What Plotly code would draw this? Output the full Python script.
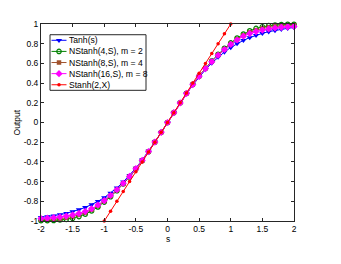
import plotly.graph_objects as go

s_vals = [-2.0, -1.9, -1.8, -1.7, -1.6, -1.5, -1.4, -1.3, -1.2, -1.1, -1.0, -0.9, -0.8, -0.7, -0.6, -0.5, -0.4, -0.3, -0.2, -0.1,
          0.0, 0.1, 0.2, 0.3, 0.4, 0.5, 0.6, 0.7, 0.8, 0.9, 1.0, 1.1, 1.2, 1.3, 1.4, 1.5, 1.6, 1.7, 1.8, 1.9, 2.0]

tanh_vals = [-0.964, -0.956, -0.947, -0.935, -0.922, -0.905, -0.885, -0.862, -0.834, -0.801, -0.762, -0.716, -0.664, -0.604,
             -0.537, -0.462, -0.380, -0.291, -0.197, -0.100, 0.0, 0.100, 0.197, 0.291, 0.380, 0.462, 0.537, 0.604, 0.664,
             0.716, 0.762, 0.801, 0.834, 0.862, 0.885, 0.905, 0.922, 0.935, 0.947, 0.956, 0.964]

nstanh4_vals = [-0.997, -0.996, -0.994, -0.990, -0.983, -0.972, -0.955, -0.930, -0.898, -0.857, -0.808, -0.753, -0.692, -0.625,
                -0.552, -0.473, -0.388, -0.297, -0.200, -0.100, 0.0, 0.100, 0.200, 0.297, 0.388, 0.473, 0.552, 0.625, 0.692,
                0.753, 0.808, 0.857, 0.898, 0.930, 0.955, 0.972, 0.983, 0.990, 0.994, 0.996, 0.997]

nstanh8_vals = [-0.988, -0.985, -0.981, -0.975, -0.967, -0.955, -0.938, -0.915, -0.885, -0.845, -0.798, -0.745, -0.686, -0.620,
                -0.549, -0.470, -0.386, -0.295, -0.199, -0.100, 0.0, 0.100, 0.199, 0.295, 0.386, 0.470, 0.549, 0.620, 0.686,
                0.745, 0.798, 0.845, 0.885, 0.915, 0.938, 0.955, 0.967, 0.975, 0.981, 0.985, 0.988]

nstanh16_vals = [-0.975, -0.971, -0.966, -0.959, -0.950, -0.938, -0.923, -0.903, -0.876, -0.838, -0.793, -0.741, -0.683, -0.618,
                 -0.547, -0.469, -0.385, -0.295, -0.199, -0.100, 0.0, 0.100, 0.199, 0.295, 0.385, 0.469, 0.547, 0.618, 0.683,
                 0.741, 0.793, 0.838, 0.876, 0.903, 0.923, 0.938, 0.950, 0.959, 0.966, 0.971, 0.975]

stanh_x = [-1.0, -0.9, -0.8, -0.7, -0.6, -0.5, -0.4, -0.3, -0.2, -0.1, 0.0, 0.1, 0.2, 0.3, 0.4, 0.5, 0.6, 0.7, 0.8, 0.9, 1.0]
stanh_y = [-1.0, -0.9, -0.8, -0.7, -0.6, -0.5, -0.4, -0.3, -0.2, -0.1, 0.0, 0.1, 0.2, 0.3, 0.4, 0.5, 0.6, 0.7, 0.8, 0.9, 1.0]

series_names = ["Tanh(s)", "NStanh(4,S), m = 2", "NStanh(8,S), m = 4", "NStanh(16,S), m = 8", "Stanh(2,X)"]

x_ticks = [-2, -1.5, -1, -0.5, 0, 0.5, 1, 1.5, 2]
x_tick_text = ["-2", "-1.5", "-1", "-0.5", "0", "0.5", "1", "1.5", "2"]
y_ticks = [-1, -0.8, -0.6, -0.4, -0.2, 0, 0.2, 0.4, 0.6, 0.8, 1]
y_tick_text = ["-1", "-0.8", "-0.6", "-0.4", "-0.2", "0", "0.2", "0.4", "0.6", "0.8", "1"]

FONT = "Liberation Sans, Arial, sans-serif"
AXC = "#262626"

styles = [
    dict(line=dict(color="#0000FF", width=1), marker=dict(symbol="triangle-down", size=5.5, color="#0000FF")),
    dict(line=dict(color="#008000", width=1), marker=dict(symbol="circle-open", size=4.5, color="#008000", line=dict(width=1.2))),
    dict(line=dict(color="#A0522D", width=1), marker=dict(symbol="square", size=4.5, color="#A0522D")),
    dict(line=dict(color="#FF00FF", width=1), marker=dict(symbol="diamond", size=5.5, color="#FF00FF")),
    dict(line=dict(color="#FF0000", width=1), marker=dict(symbol="circle", size=3.5, color="#FF0000")),
]
series_x = [s_vals, s_vals, s_vals, s_vals, stanh_x]
series_y = [tanh_vals, nstanh4_vals, nstanh8_vals, nstanh16_vals, stanh_y]

fig = go.Figure()
for name, xs, ys, st in zip(series_names, series_x, series_y, styles):
    fig.add_trace(go.Scatter(x=xs, y=ys, name=name, mode="lines+markers", showlegend=False,
                             cliponaxis=False, **st))

# Legend drawn in a pixel-like overlay axis (0..253 across, 0..202 down from top)
leg_left, leg_right, leg_top, leg_bottom = 9, 105, 11, 68
row_h = (leg_bottom - leg_top) / 5.0
fig.add_shape(type="rect", xref="x2", yref="y2", x0=leg_left, x1=leg_right, y0=leg_top, y1=leg_bottom,
              line=dict(color=AXC, width=1), fillcolor="white", layer="below")
for i, (name, st) in enumerate(zip(series_names, styles)):
    yc = leg_top + row_h * (i + 0.5)
    fig.add_trace(go.Scatter(x=[leg_left + 1.5, leg_left + 9, leg_left + 16.5], y=[yc, yc, yc], mode="lines",
                             line=st["line"], xaxis="x2", yaxis="y2", showlegend=False, hoverinfo="skip"))
    fig.add_trace(go.Scatter(x=[leg_left + 9], y=[yc], mode="markers", marker=st["marker"],
                             xaxis="x2", yaxis="y2", showlegend=False, hoverinfo="skip"))
    fig.add_annotation(x=leg_left + 17, y=yc, xref="x2", yref="y2", text=name, showarrow=False,
                       xanchor="left", yanchor="middle", font=dict(family=FONT, size=8.6, color="#000000"))

axis_common = dict(showgrid=False, zeroline=False, showline=True, linecolor=AXC, linewidth=1,
                   mirror="ticks", ticks="inside", ticklen=3, tickcolor=AXC,
                   tickfont=dict(family=FONT, size=8.5, color="#000000"))

fig.add_annotation(x=0.5, y=-0.09, xref="paper", yref="paper", text="s", showarrow=False,
                   xanchor="center", yanchor="middle", font=dict(family=FONT, size=8.5, color="#000000"))
fig.add_annotation(x=-0.095, y=0.5, xref="paper", yref="paper", text="Output", showarrow=False, textangle=-90,
                   xanchor="center", yanchor="middle", font=dict(family=FONT, size=8.5, color="#000000"))

# The page adds an 8px body margin, so the figure's own margins are reduced to compensate.
fig.update_layout(
    width=341, height=264,
    margin=dict(l=33, r=55, t=11, b=51),
    paper_bgcolor="white", plot_bgcolor="white",
    font=dict(family=FONT, size=8, color="#000000"),
    xaxis=dict(range=[-2, 2], tickvals=x_ticks, ticktext=x_tick_text, **axis_common),
    yaxis=dict(range=[-1, 1], tickvals=y_ticks, ticktext=y_tick_text, **axis_common),
    xaxis2=dict(range=[0, 253], overlaying="x", visible=False, fixedrange=True),
    yaxis2=dict(range=[202, 0], overlaying="y", visible=False, fixedrange=True),
    showlegend=False,
)

fig.write_html("out.html")
